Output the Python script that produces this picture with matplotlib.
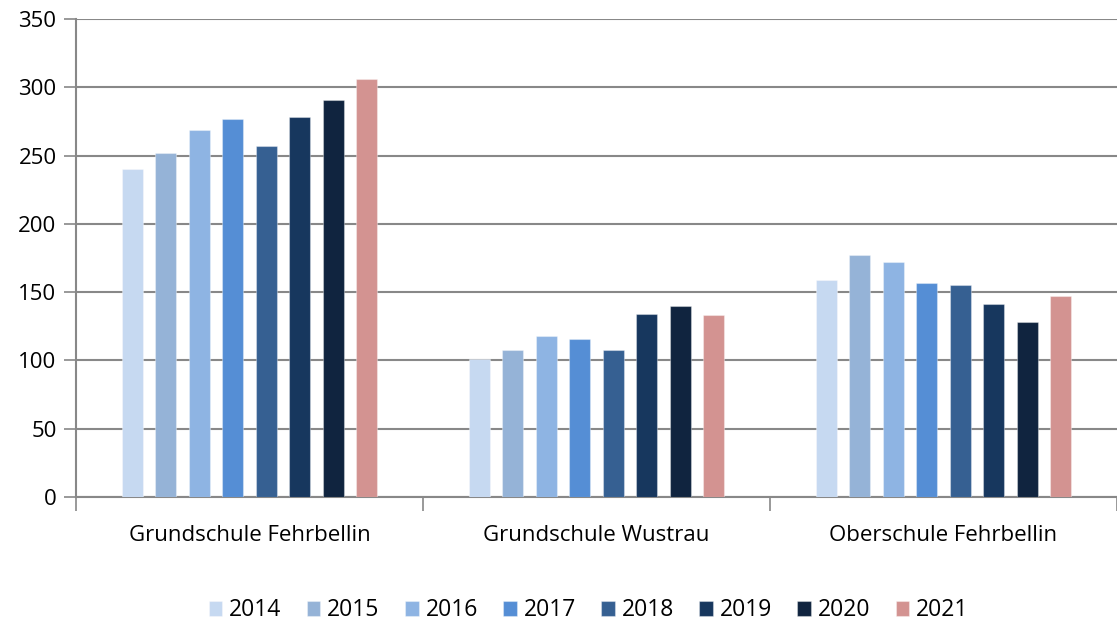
import matplotlib.pyplot as plt
import numpy as np

plt.rcParams['font.family'] = ['Open Sans', 'DejaVu Sans']

schools = ["Grundschule Fehrbellin", "Grundschule Wustrau", "Oberschule Fehrbellin"]
years = ["2014", "2015", "2016", "2017", "2018", "2019", "2020", "2021"]
values = {
    "2014": [240, 101, 159],
    "2015": [252, 108, 177],
    "2016": [269, 118, 172],
    "2017": [277, 116, 157],
    "2018": [257, 108, 155],
    "2019": [278, 134, 141],
    "2020": [291, 140, 128],
    "2021": [306, 133, 147],
}
colors = ["#C6D9F1", "#95B3D7", "#8EB4E3", "#558ED5",
          "#366092", "#17375E", "#10243F", "#D39391"]

fig = plt.figure(figsize=(11.17, 6.23), dpi=100)
ax = fig.add_axes([0.068, 0.2022, 0.932, 0.7673])

x = np.arange(len(schools))
step = 0.0966
width = 0.06
for i, (yr, c) in enumerate(zip(years, colors)):
    offs = (i - 3.5) * step
    ax.bar(x + offs, values[yr], width, color=c, label=yr,
           edgecolor=(1, 1, 1, 0.35), linewidth=0.8, zorder=3)

ax.set_xlim(-0.5, 2.5)
ax.set_ylim(0, 350)
ax.set_yticks(range(0, 351, 50))
ax.yaxis.grid(True, color="#888888", linewidth=1.5, zorder=0)
ax.set_axisbelow(True)

ax.set_xticks(x)
ax.set_xticklabels(schools, fontsize=16)
ax.tick_params(axis="x", length=0, pad=20)
ax.set_xticks([-0.5, 0.5, 1.5, 2.5], minor=True)
ax.tick_params(axis="x", which="minor", length=10, width=1.2, color="#888888")
ax.tick_params(axis="y", length=9, width=1.2, color="#888888", labelsize=16, pad=5)

for s in ["top", "right"]:
    ax.spines[s].set_visible(False)
ax.spines["left"].set_color("#888888")
ax.spines["left"].set_linewidth(1.5)
ax.spines["bottom"].set_color("#888888")
ax.spines["bottom"].set_linewidth(1.5)

leg = fig.legend(loc="lower center", bbox_to_anchor=(0.527, -0.032), ncol=8,
                 frameon=False, fontsize=16.5, handlelength=0.6, handleheight=0.6,
                 handletextpad=0.3, columnspacing=1.1)

fig.savefig("out.png", dpi=100)
